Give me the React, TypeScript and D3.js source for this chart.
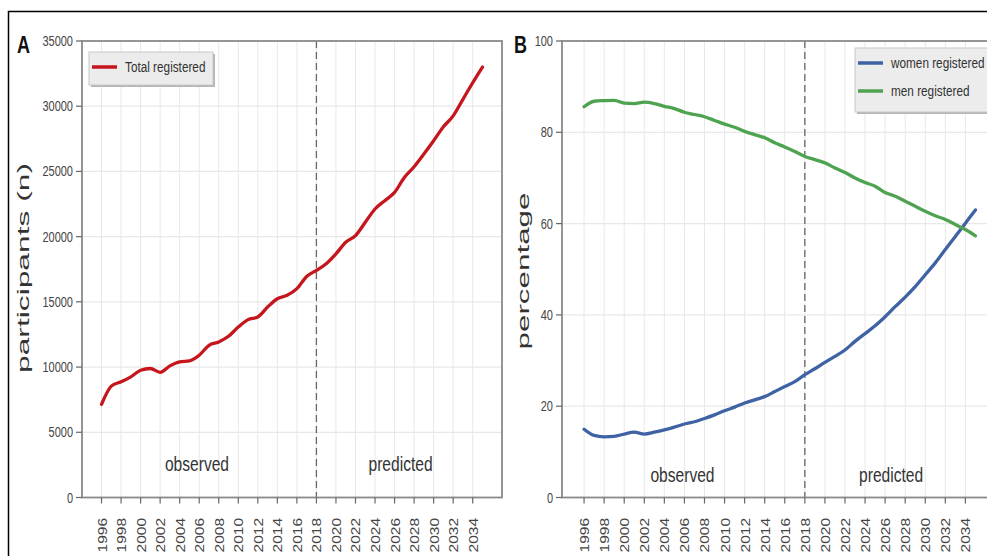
import React from 'react';
import * as d3 from 'd3';

const years = d3.range(1996, 2036);
const tickYears = d3.range(1996, 2036, 2);

const totalRegistered = [
  7150, 8540, 8870, 9250, 9760, 9890, 9600, 10090, 10400, 10480,
  10910, 11670, 11930, 12360, 13070, 13640, 13840, 14600, 15240, 15500,
  16010, 16950, 17410, 17920, 18680, 19570, 20080, 21100, 22120, 22760,
  23390, 24540, 25360, 26330, 27350, 28420, 29260, 30530, 31800, 33000,
];

const womenRegistered = [
  14.95, 13.6, 13.3, 13.4, 13.9, 14.3, 13.9, 14.3, 14.8, 15.4,
  16.1, 16.6, 17.3, 18.1, 19.0, 19.8, 20.7, 21.4, 22.1, 23.2,
  24.3, 25.4, 26.9, 28.2, 29.6, 30.9, 32.3, 34.2, 35.9, 37.6,
  39.6, 41.8, 43.9, 46.2, 48.8, 51.4, 54.3, 57.2, 60.1, 63.0,
];

const menRegistered = [
  85.6, 86.8, 86.95, 87.0, 86.4, 86.3, 86.6, 86.3, 85.7, 85.2,
  84.4, 83.9, 83.4, 82.6, 81.8, 81.1, 80.2, 79.5, 78.8, 77.7,
  76.8, 75.8, 74.7, 74.0, 73.3, 72.2, 71.2, 70.0, 69.0, 68.2,
  66.8, 66.0, 64.9, 63.8, 62.7, 61.7, 60.9, 59.8, 58.7, 57.3,
];

const ticksA = [0, 5000, 10000, 15000, 20000, 25000, 30000, 35000];
const ticksB = [0, 20, 40, 60, 80, 100];
const splitYear = 2018;

const FONT = '"Liberation Sans", Arial, sans-serif';
const RED = '#c4161c';
const BLUE = '#3f62a4';
const GREEN = '#4ea351';

// squished text, like the reference
const Txt = ({ x, y, sx = 0.78, rot = false, size = 14, anchor = 'start', fill = '#444', weight = 'normal', len, children }: any) => (
  <text
    transform={`translate(${x},${y}) scale(${sx},1)${rot ? ' rotate(-90)' : ''}`}
    textAnchor={anchor}
    fontSize={size}
    fontFamily={FONT}
    fontWeight={weight}
    fill={fill}
    textLength={len}
    lengthAdjust={len ? 'spacingAndGlyphs' : undefined}
  >
    {children}
  </text>
);

const Panel = ({ x, y, yTicks, series, letter, yLabel, yLabelLen, textY, legend }: any) => {
  const [x0, x1] = x.range();
  const [yb, yt] = y.range();
  return (
    <g>
      {/* grid */}
      {tickYears.map(t => (
        <line key={'gx' + t} x1={x(t)} x2={x(t)} y1={yt} y2={yb} stroke="#e8e8e8" strokeWidth={1} />
      ))}
      {yTicks.map((t: number) => (
        <line key={'gy' + t} x1={x0} x2={x1} y1={y(t)} y2={y(t)} stroke="#e8e8e8" strokeWidth={1.2} />
      ))}
      {/* split line */}
      <line x1={x(splitYear)} x2={x(splitYear)} y1={yt} y2={yb} stroke="#666" strokeWidth={1.3} strokeDasharray="7,4" />
      {/* series */}
      {series.map((s: any) => (
        <path
          key={s.name}
          d={d3.line<number>().x((_, i) => x(years[i])).y(v => y(v)).curve(d3.curveMonotoneX)(s.values) || ''}
          fill="none"
          stroke={s.color}
          strokeWidth={3.3}
          strokeLinejoin="round"
          strokeLinecap="round"
        />
      ))}
      {/* frame */}
      <rect x={x0} y={yt} width={x1 - x0} height={yb - yt} fill="none" stroke="#8a8a8a" strokeWidth={1.8} />
      {/* x ticks */}
      {tickYears.map(t => (
        <g key={'tx' + t}>
          <line x1={x(t)} x2={x(t)} y1={yb} y2={yb + 6} stroke="#666" strokeWidth={1.2} />
          <Txt x={x(t) + 5} y={518} rot anchor="end" size={15.5} sx={0.85}>{t}</Txt>
        </g>
      ))}
      {/* y ticks */}
      {yTicks.map((t: number) => (
        <g key={'ty' + t}>
          <line x1={x0 - 6} x2={x0} y1={y(t)} y2={y(t)} stroke="#666" strokeWidth={1.2} />
          <Txt x={x0 - 9} y={y(t) + 5} anchor="end" size={14.5} sx={0.76}>{t}</Txt>
        </g>
      ))}
      <Txt x={letter.x} y={53} size={24} sx={0.75} weight="bold" fill="#111">{letter.text}</Txt>
      <Txt x={yLabel.x} y={yLabel.y} rot anchor="middle" size={19} sx={0.85} fill="#333" len={yLabelLen}>{yLabel.text}</Txt>
      <Txt x={(x(splitYear) + x(1996)) / 2 - 12} y={textY} anchor="middle" size={20} sx={0.78} fill="#333">observed</Txt>
      <Txt x={(x(splitYear) + x(2034)) / 2 + 6} y={textY} anchor="middle" size={20} sx={0.78} fill="#333">predicted</Txt>
      {/* legend */}
      <g>
        <rect x={legend.x + 2} y={legend.y + 2} width={legend.w} height={legend.h} fill="#b5b5b5" />
        <rect x={legend.x} y={legend.y} width={legend.w} height={legend.h} fill="#ececec" stroke="#c8c8c8" strokeWidth={1} />
        {series.map((s: any, i: number) => (
          <g key={'lg' + s.name}>
            <line x1={legend.x + 3} x2={legend.x + 28} y1={legend.y + 15 + i * 28} y2={legend.y + 15 + i * 28} stroke={s.color} strokeWidth={3.5} />
            <Txt x={legend.x + 36} y={legend.y + 20 + i * 28} size={15.5} sx={0.76} fill="#333">{s.name}</Txt>
          </g>
        ))}
      </g>
    </g>
  );
};

export default function App() {
  const xA = d3.scaleLinear().domain([1994, 2037]).range([82, 502]);
  const yA = d3.scaleLinear().domain([0, 35000]).range([497.5, 41]);
  const xB = d3.scaleLinear().domain([1993.8, 2037]).range([562, 995.5]);
  const yB = d3.scaleLinear().domain([0, 100]).range([497.5, 41]);

  return (
    <svg
      width={987}
      height={556}
      style={{ position: 'absolute', left: 0, top: 0, background: '#fff' }}
    >
      <rect x={0} y={0} width={987} height={556} fill="#fff" />
      <Panel
        x={xA}
        y={yA}
        yTicks={ticksA}
        series={[{ name: 'Total registered', values: totalRegistered, color: RED }]}
        letter={{ x: 17, text: 'A' }}
        yLabel={{ x: 29, y: 268, text: 'participants (n)' }}
        yLabelLen={210}
        textY={471}
        legend={{ x: 89, y: 52, w: 124, h: 33 }}
      />
      <Panel
        x={xB}
        y={yB}
        yTicks={ticksB}
        series={[
          { name: 'women registered', values: womenRegistered, color: BLUE },
          { name: 'men registered', values: menRegistered, color: GREEN },
        ]}
        letter={{ x: 514, text: 'B' }}
        yLabel={{ x: 529, y: 271, text: 'percentage' }}
        yLabelLen={157}
        textY={482}
        legend={{ x: 855, y: 48, w: 150, h: 64 }}
      />
      <rect x={8.5} y={11.5} width={990} height={560} fill="none" stroke="#000" strokeWidth={1.5} />
    </svg>
  );
}
